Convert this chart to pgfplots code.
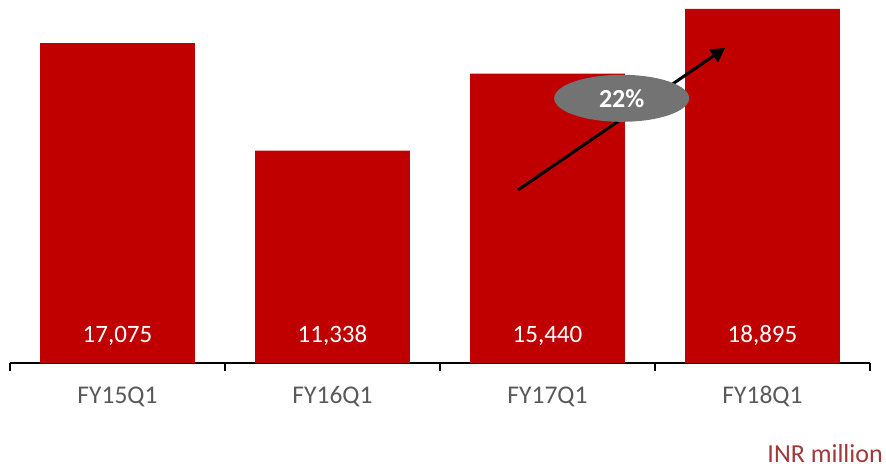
\documentclass[border=0pt]{standalone}
\usepackage{fontspec}
\setmainfont{Carlito}
\usepackage{pgfplots}
\pgfplotsset{compat=1.18}
\usetikzlibrary{arrows.meta,shapes.geometric}
\definecolor{barred}{HTML}{C00000}
\definecolor{lblgray}{HTML}{595959}
\definecolor{ellgray}{HTML}{737373}
\definecolor{unitred}{HTML}{A0393B}
\begin{document}
\begin{tikzpicture}[x=1pt,y=1pt]
\path[use as bounding box] (-10,-106) rectangle (876,363);
\begin{axis}[
  at={(0,0)}, anchor=south west,
  scale only axis, width=860pt, height=363pt,
  xmin=-0.5, xmax=3.5, ymin=0, ymax=19370,
  axis x line*=bottom, axis y line=none,
  axis line style={black, line width=1.2pt, -},
  xtick={0,1,2,3},
  xticklabels={FY15Q1,FY16Q1,FY17Q1,FY18Q1},
  major tick length=0pt,
  minor xtick={-0.5,0.5,1.5,2.5,3.5},
  minor tick length=8pt,
  tick align=outside,
  minor tick style={black, line width=1.2pt},
  xticklabel style={font=\fontsize{25.5}{28}\selectfont, text=lblgray, yshift=-20pt},
  ytick=\empty,
  clip=false,
  /pgf/number format/assume math mode=true,
]
\addplot[ybar, bar width=0.72, fill=barred, draw=none,
  visualization depends on={y \as \rawy},
  nodes near coords={\pgfmathprintnumber[fixed,precision=0,1000 sep={,}]{\pgfplotspointmeta}},
  every node near coord/.append style={anchor=center, text=white,
     font=\fontsize{25}{28}\selectfont,
     shift={(axis direction cs:0,-\rawy+1440)}},
] coordinates {(0,17075) (1,11338) (2,15440) (3,18895)};
\draw[line width=3pt, -{Triangle[length=14pt,width=15pt]}] (axis cs:1.863,9231) -- (axis cs:2.826,16809);
\node[ellipse, fill=ellgray, minimum width=135pt, minimum height=47pt, inner sep=0pt, text=white, font=\bfseries\fontsize{26}{28}\selectfont] at (axis cs:2.345,14125) {22\%};
\end{axis}
\node[anchor=base east, inner sep=0pt, text=unitred, font=\fontsize{26}{28}\selectfont] at (873,-99) {INR million};
\end{tikzpicture}
\end{document}
